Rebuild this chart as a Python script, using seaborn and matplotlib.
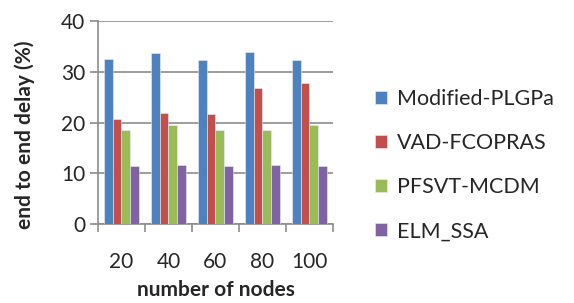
import matplotlib
matplotlib.use("Agg")
import matplotlib.pyplot as plt
import seaborn as sns
import pandas as pd
from matplotlib.ticker import FixedLocator

sns.set_style("white")
plt.rcParams['font.family'] = ['Lato', 'DejaVu Sans']

nodes = ["20", "40", "60", "80", "100"]
methods = ["Modified-PLGPa", "VAD-FCOPRAS", "PFSVT-MCDM", "ELM_SSA"]
plgpa = [32.6, 33.6, 32.4, 33.9, 32.4]
fcopras = [20.7, 21.8, 21.6, 26.7, 27.8]
pfsvt = [18.6, 19.5, 18.5, 18.5, 19.5]
elm_ssa = [11.5, 11.7, 11.5, 11.7, 11.5]
colors = ["#4F81BD", "#C0504D", "#9BBB59", "#8064A2"]

rows = []
for name, vals in zip(methods, [plgpa, fcopras, pfsvt, elm_ssa]):
    for n, v in zip(nodes, vals):
        rows.append({"nodes": n, "method": name, "delay": v})
df = pd.DataFrame(rows)

fig = plt.figure(figsize=(5.74, 3.03), dpi=100)
ax = fig.add_axes([0.1707, 0.2607, 0.4094, 0.67])

sns.barplot(data=df, x="nodes", y="delay", hue="method", palette=colors,
            saturation=1, width=0.75, edgecolor="#e8eef8", linewidth=0.4,
            ax=ax, zorder=3)

ax.set_ylim(0, 40)
ax.set_xlim(-0.5, 4.5)
ax.set_yticks([0, 10, 20, 30, 40])
ax.yaxis.grid(True, color="#8c8c8c", linewidth=1.2, zorder=0)
ax.set_axisbelow(True)
for s in ["top", "right"]:
    ax.spines[s].set_visible(False)
for s in ["left", "bottom"]:
    ax.spines[s].set_color("#8c8c8c")
    ax.spines[s].set_linewidth(1.2)

fs = 15
ax.tick_params(axis="y", left=True, length=6, width=1.2, color="#8c8c8c",
               labelsize=fs, pad=3)
ax.tick_params(axis="x", which="major", length=0, labelsize=fs, pad=20)
ax.xaxis.set_minor_locator(FixedLocator([-0.5, 0.5, 1.5, 2.5, 3.5, 4.5]))
ax.tick_params(axis="x", which="minor", bottom=True, length=6, width=1.2,
               color="#8c8c8c")

ax.set_xlabel("number of nodes", fontsize=fs, fontweight="bold", labelpad=6)
ax.set_ylabel("end to end delay (%)", fontsize=fs, fontweight="bold")
ax.yaxis.set_label_coords(-0.27, 0.44)

ax.legend(title=None, loc="center left", bbox_to_anchor=(1.095, 0.29), frameon=False,
          fontsize=15.5, handlelength=0.55, handleheight=0.55, labelspacing=1.12,
          handletextpad=0.5)

fig.savefig("out.png", dpi=100)
